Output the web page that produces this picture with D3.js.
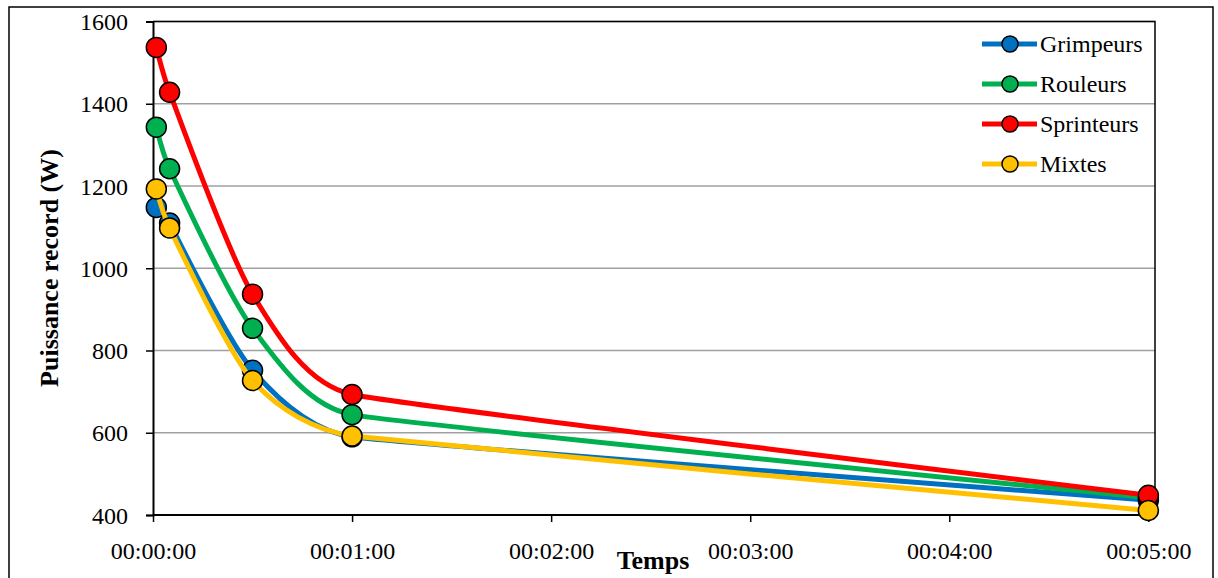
<!DOCTYPE html>
<head>
  <meta charset="utf-8">
  <script src="https://d3js.org/d3.v7.min.js"></script>
  <style>
    body { margin:0; background:#fff; }
  </style>
</head>
<body>
<script>
  // durées en secondes
  var temps = [1, 5, 30, 60, 300];
  var series = ["Grimpeurs", "Rouleurs", "Sprinteurs", "Mixtes"];
  var grimpeurs  = [1148, 1110, 752, 590, 436];
  var rouleurs   = [1343, 1242, 854, 644, 442];
  var sprinteurs = [1537, 1428, 937, 693, 448];
  var mixtes     = [1193, 1098, 727, 592, 411];
  var couleurs = ["#0070C0", "#00B050", "#FF0000", "#FFC000"];
  var yTicks = [400, 600, 800, 1000, 1200, 1400, 1600];
  var xTicks = [0, 60, 120, 180, 240, 300];

  var valeurs = [grimpeurs, rouleurs, sprinteurs, mixtes];
  var police = "'Liberation Serif'";

  var W = 1218, H = 578;
  var svg = d3.select("body").append("svg")
    .attr("width", W).attr("height", H);

  // cadre extérieur
  svg.append("rect")
    .attr("x", 9).attr("y", 7).attr("width", 1204).attr("height", 580)
    .attr("fill", "none").attr("stroke", "#000").attr("stroke-width", 1.5);

  var x = d3.scaleLinear().domain([0, 302]).range([153, 1155]);
  var y = d3.scaleLinear().domain([400, 1600]).range([515, 21.5]);

  function hms(s) {
    var m = Math.floor(s / 60), sec = s % 60;
    return "00:" + (m < 10 ? "0" : "") + m + ":" + (sec < 10 ? "0" : "") + sec;
  }

  // grille
  svg.append("g").selectAll("line")
    .data(yTicks.slice(1))
    .enter().append("line")
    .attr("x1", 153).attr("x2", 1155)
    .attr("y1", function(d){ return y(d); })
    .attr("y2", function(d){ return y(d); })
    .attr("stroke", "#a0a0a0").attr("stroke-width", 1.5);

  // bord de la zone de traçage
  svg.append("path")
    .attr("d", "M153," + y(1600) + "H1155V" + y(400))
    .attr("fill", "none").attr("stroke", "#000").attr("stroke-width", 1.5);

  var yAxis = d3.axisLeft(y).tickValues(yTicks).tickSize(7).tickPadding(18).tickFormat(d3.format("d"));
  var gy = svg.append("g").attr("transform", "translate(153,0)").call(yAxis);
  gy.select(".domain").attr("stroke-width", 2);
  gy.selectAll(".tick line").attr("stroke-width", 1.5);
  gy.selectAll("text").style("font-family", police).style("font-size", "24px").attr("dy", "0.34em");

  var xAxis = d3.axisBottom(x).tickValues(xTicks).tickSize(7).tickPadding(20).tickFormat(hms);
  var gx = svg.append("g").attr("transform", "translate(0,515)").call(xAxis);
  gx.select(".domain").attr("d", "M153,0H1155").attr("stroke-width", 2);
  gx.selectAll(".tick line").attr("stroke-width", 1.5);
  gx.selectAll("text").style("font-family", police).style("font-size", "24px");

  // titres d'axes
  svg.append("text")
    .attr("transform", "translate(58,268) rotate(-90)")
    .attr("text-anchor", "middle")
    .style("font-family", police)
    .style("font-size", "26px").style("font-weight", "bold")
    .text("Puissance record (W)");
  svg.append("text")
    .attr("x", 653).attr("y", 569)
    .attr("text-anchor", "middle")
    .style("font-family", police)
    .style("font-size", "26px").style("font-weight", "bold")
    .text("Temps");

  // lissage façon tableur : tangente (P[i+1]-P[i-1]), longueur bornée par le plus court segment voisin
  function lisse(pts) {
    var d = "M" + pts[0][0] + "," + pts[0][1];
    function dist(a, b) { return Math.hypot(b[0] - a[0], b[1] - a[1]); }
    function tangente(i) {
      if (i === 0 || i === pts.length - 1) return null;
      var tx = pts[i + 1][0] - pts[i - 1][0], ty = pts[i + 1][1] - pts[i - 1][1];
      var n = Math.hypot(tx, ty);
      var l = Math.min(dist(pts[i - 1], pts[i]), dist(pts[i], pts[i + 1])) / 3;
      return [tx / n * l, ty / n * l];
    }
    for (var i = 0; i < pts.length - 1; i++) {
      var a = pts[i], b = pts[i + 1];
      var ta = tangente(i), tb = tangente(i + 1);
      var c1 = ta ? [a[0] + ta[0], a[1] + ta[1]] : a;
      var c2 = tb ? [b[0] - tb[0], b[1] - tb[1]] : b;
      d += "C" + c1[0] + "," + c1[1] + " " + c2[0] + "," + c2[1] + " " + b[0] + "," + b[1];
    }
    return d;
  }

  series.forEach(function(nom, k) {
    var g = svg.append("g");
    var pts = valeurs[k].map(function(v, i){ return [x(temps[i]), y(v)]; });
    g.append("path")
      .attr("d", lisse(pts))
      .attr("fill", "none").attr("stroke", couleurs[k]).attr("stroke-width", 5);
    g.selectAll("circle")
      .data(valeurs[k])
      .enter().append("circle")
      .attr("cx", function(d, i){ return x(temps[i]); })
      .attr("cy", function(d){ return y(d); })
      .attr("r", 10)
      .attr("fill", couleurs[k]).attr("stroke", "#000").attr("stroke-width", 1.5);
  });

  // légende
  var leg = svg.append("g").selectAll("g")
    .data(series)
    .enter().append("g")
    .attr("transform", function(d, i){ return "translate(982," + (44 + i * 40) + ")"; });
  leg.append("line")
    .attr("x1", 0).attr("x2", 55)
    .attr("stroke", function(d, i){ return couleurs[i]; }).attr("stroke-width", 5);
  leg.append("circle")
    .attr("cx", 28).attr("r", 8)
    .attr("fill", function(d, i){ return couleurs[i]; })
    .attr("stroke", "#000").attr("stroke-width", 1.5);
  leg.append("text")
    .attr("x", 58).attr("dy", "0.35em")
    .style("font-family", police)
    .style("font-size", "24px")
    .text(function(d){ return d; });
</script>
</body>
